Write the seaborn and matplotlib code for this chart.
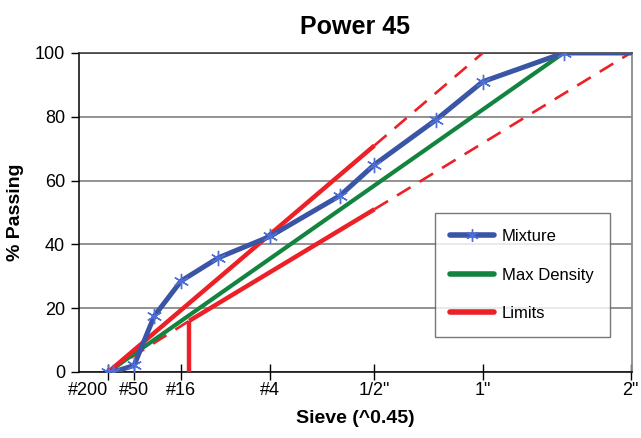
import numpy as np
import pandas as pd
import matplotlib
matplotlib.use("Agg")
import matplotlib.pyplot as plt
from matplotlib.lines import Line2D
from matplotlib import font_manager
import seaborn as sns

# sieve sizes in mm, percent passing
mix_size = [0.075, 0.106, 0.3, 0.6, 1.18, 2.36, 4.75, 9.5, 12.5, 19.0, 25.0, 37.5, 50.0]
mix_pass = [0, 0, 2, 17.5, 28.5, 35.8, 42.5, 55.3, 65, 79, 91, 100, 100]

maxd_size = [0.075, 37.5]
maxd_pass = [0, 100]

upper_solid_size = [0.075, 12.5]
upper_solid_pass = [0, 71]
upper_dash_size = [12.5, 25.0]
upper_dash_pass = [71, 100]

lower_dash1_size = [0.075, 1.4]
lower_dash1_pass = [0, 16]
lower_solid_size = [1.4, 12.5]
lower_solid_pass = [16, 51]
lower_dash2_size = [12.5, 50.0]
lower_dash2_pass = [51, 100]
lower_vert_size = [1.4, 1.4]
lower_vert_pass = [0, 16]

tick_sizes = [0.075, 0.3, 1.18, 4.75, 12.5, 25.0, 50.0]
tick_labels = ['#200', '#50', '#16', '#4', '1/2"', '1"', '2"']

BLUE = '#3a55a6'
MARK = '#4f6fd6'
GREEN = '#12843f'
RED = '#ec2027'

sns.set_theme(style='white')
installed = {f.name for f in font_manager.fontManager.ttflist}
fams = [f for f in ['Liberation Sans Narrow', 'Liberation Sans', 'DejaVu Sans'] if f in installed]
plt.rcParams['font.family'] = fams
plt.rcParams['text.color'] = 'black'
plt.rcParams['axes.labelcolor'] = 'black'

fig, ax = plt.subplots(figsize=(6.41, 4.38), dpi=100)
fig.subplots_adjust(left=0.123, right=0.986, top=0.879, bottom=0.151)

p = 0.45
ax.set_xscale('function', functions=(lambda x: np.sign(x) * np.abs(x) ** p,
                                     lambda x: np.sign(x) * np.abs(x) ** (1 / p)))

def seg(xs, ys, color, lw, ls='-'):
    sns.lineplot(x=xs, y=ys, ax=ax, color=color, linewidth=lw, linestyle=ls,
                 estimator=None, sort=False, solid_capstyle='butt', zorder=3)

dash = (0, (6, 4))
seg(upper_dash_size, upper_dash_pass, RED, 1.9, dash)
seg(lower_dash1_size, lower_dash1_pass, RED, 1.9, dash)
seg(lower_dash2_size, lower_dash2_pass, RED, 1.9, dash)
seg(maxd_size, maxd_pass, GREEN, 3.0)
seg(lower_solid_size, lower_solid_pass, RED, 3.2)
seg(lower_vert_size, lower_vert_pass, RED, 3.2)
seg(upper_solid_size, upper_solid_pass, RED, 3.2)

df = pd.DataFrame({'size': mix_size, 'passing': mix_pass})
sns.lineplot(data=df, x='size', y='passing', ax=ax, color=BLUE, linewidth=3.6,
             estimator=None, sort=False, zorder=4, solid_joinstyle='round')
ax.plot(df['size'][:-1], df['passing'][:-1], linestyle='none', marker=(6, 2, 0),
        markersize=11, markeredgewidth=1.0, markeredgecolor=MARK, zorder=5)

ax.set_xlim(0, 50.3)
ax.set_ylim(0, 100)
ax.set_xticks(tick_sizes)
ax.set_xticklabels(tick_labels)
ax.xaxis.get_majorticklabels()[0].set_horizontalalignment('right')
ax.set_yticks([0, 20, 40, 60, 80, 100])
ax.tick_params(axis='x', direction='inout', length=11, width=1, colors='black',
               labelsize=13, pad=2, bottom=True)
ax.tick_params(axis='y', direction='out', length=6, width=1, colors='black',
               labelsize=13, pad=4, left=True)
ax.minorticks_off()

ax.grid(axis='y', color='#8a8a8a', linewidth=1.3)
ax.grid(axis='x', visible=False)
for s in ['left', 'bottom']:
    ax.spines[s].set_color('black')
    ax.spines[s].set_linewidth(1.1)
ax.spines['top'].set_color('#333333')
ax.spines['top'].set_linewidth(1.1)
ax.spines['right'].set_color('#8a8a8a')
ax.spines['right'].set_linewidth(1.3)

ax.set_title('Power 45', fontsize=18, fontweight='bold', pad=14, color='black')
ax.set_xlabel('Sieve (^0.45)', fontsize=14, fontweight='bold', labelpad=8)
ax.set_ylabel('% Passing', fontsize=14, fontweight='bold', labelpad=8)

handles = [
    Line2D([], [], color=BLUE, linewidth=4, marker=(6, 2, 0), markersize=9,
           markeredgecolor=MARK, markeredgewidth=1),
    Line2D([], [], color=GREEN, linewidth=4),
    Line2D([], [], color=RED, linewidth=4),
]
leg = ax.legend(handles, ['Mixture', 'Max Density', 'Limits'], loc='lower left',
                bbox_to_anchor=(0.643, 0.11), fontsize=12, frameon=True,
                fancybox=False, edgecolor='#555555', handlelength=2.6,
                labelspacing=1.4, borderpad=0.95, handletextpad=0.5,
                borderaxespad=0)
leg.get_frame().set_linewidth(1.0)
leg.set_zorder(10)

fig.savefig('out.png', dpi=100)
